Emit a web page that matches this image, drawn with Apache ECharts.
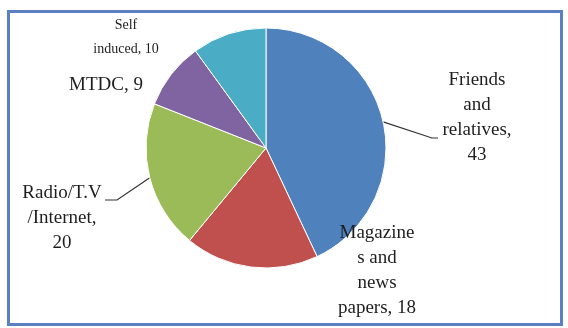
<!DOCTYPE html>
<html>
<head>
<meta charset="utf-8">
<script src="https://cdn.jsdelivr.net/npm/echarts@6/dist/echarts.min.js"></script>
<style>
  html, body { margin: 0; padding: 0; background: #ffffff; }
  #chart { width: 568px; height: 328px; }
</style>
</head>
<body>
<div id="chart"></div>
<script>
// Sources of information about the destination (share, %)
var categories = ['Friends\nand\nrelatives,\n43', 'Magazine\ns and\nnews\npapers, 18', 'Radio/T.V\n/Internet,\n20', 'MTDC, 9', 'Self\ninduced, 10'];
var names = ['Friends and relatives', 'Magazines and news papers', 'Radio/T.V/Internet', 'MTDC', 'Self induced'];
var values = [43, 18, 20, 9, 10];
var colors = ['#4f81bd', '#c0504d', '#9bbb59', '#8064a2', '#4bacc6'];

// Where each label block sits (label anchor, px) and the bend/end of its leader line
var labelSpots = [
  { x: 477, y: 118, line: [[432, 138], [438, 138]] },
  { x: 377, y: 271, line: null },
  { x: 62, y: 218, line: [[117, 200], [105, 200]] },
  { x: 106, y: 85, line: null },
  { x: 126, y: 37, line: null }
];

var chart = echarts.init(document.getElementById('chart'), null, { renderer: 'canvas' });

var data = values.map(function (v, i) {
  return {
    name: names[i],
    value: v,
    itemStyle: { color: colors[i] },
    label: {
      formatter: categories[i],
      fontSize: i === 4 ? 14 : 19,
      lineHeight: i === 4 ? 24 : 25
    },
    labelLine: { show: !!labelSpots[i].line }
  };
});

chart.setOption({
  animation: false,
  graphic: [{
    type: 'rect',
    shape: { x: 8.5, y: 11.5, width: 553, height: 313 },
    style: { fill: 'none', stroke: '#5a7fc2', lineWidth: 3 },
    z: 10
  }],
  series: [{
    type: 'pie',
    center: [266, 148],
    radius: 120,
    startAngle: 90,
    clockwise: true,
    data: data,
    itemStyle: { borderColor: '#ffffff', borderWidth: 1 },
    label: {
      show: true,
      position: 'outside',
      color: '#1e1e1e',
      fontFamily: '"Liberation Serif", "DejaVu Serif", serif',
      align: 'center'
    },
    labelLine: {
      show: true,
      length: 10,
      length2: 10,
      lineStyle: { color: '#333333', width: 1.2 }
    },
    labelLayout: function (params) {
      var s = labelSpots[params.dataIndex];
      var out = { x: s.x, y: s.y, align: 'center', verticalAlign: 'middle' };
      if (s.line && params.labelLinePoints) {
        out.labelLinePoints = [params.labelLinePoints[0]].concat(s.line);
      }
      return out;
    }
  }]
});
</script>
</body>
</html>
